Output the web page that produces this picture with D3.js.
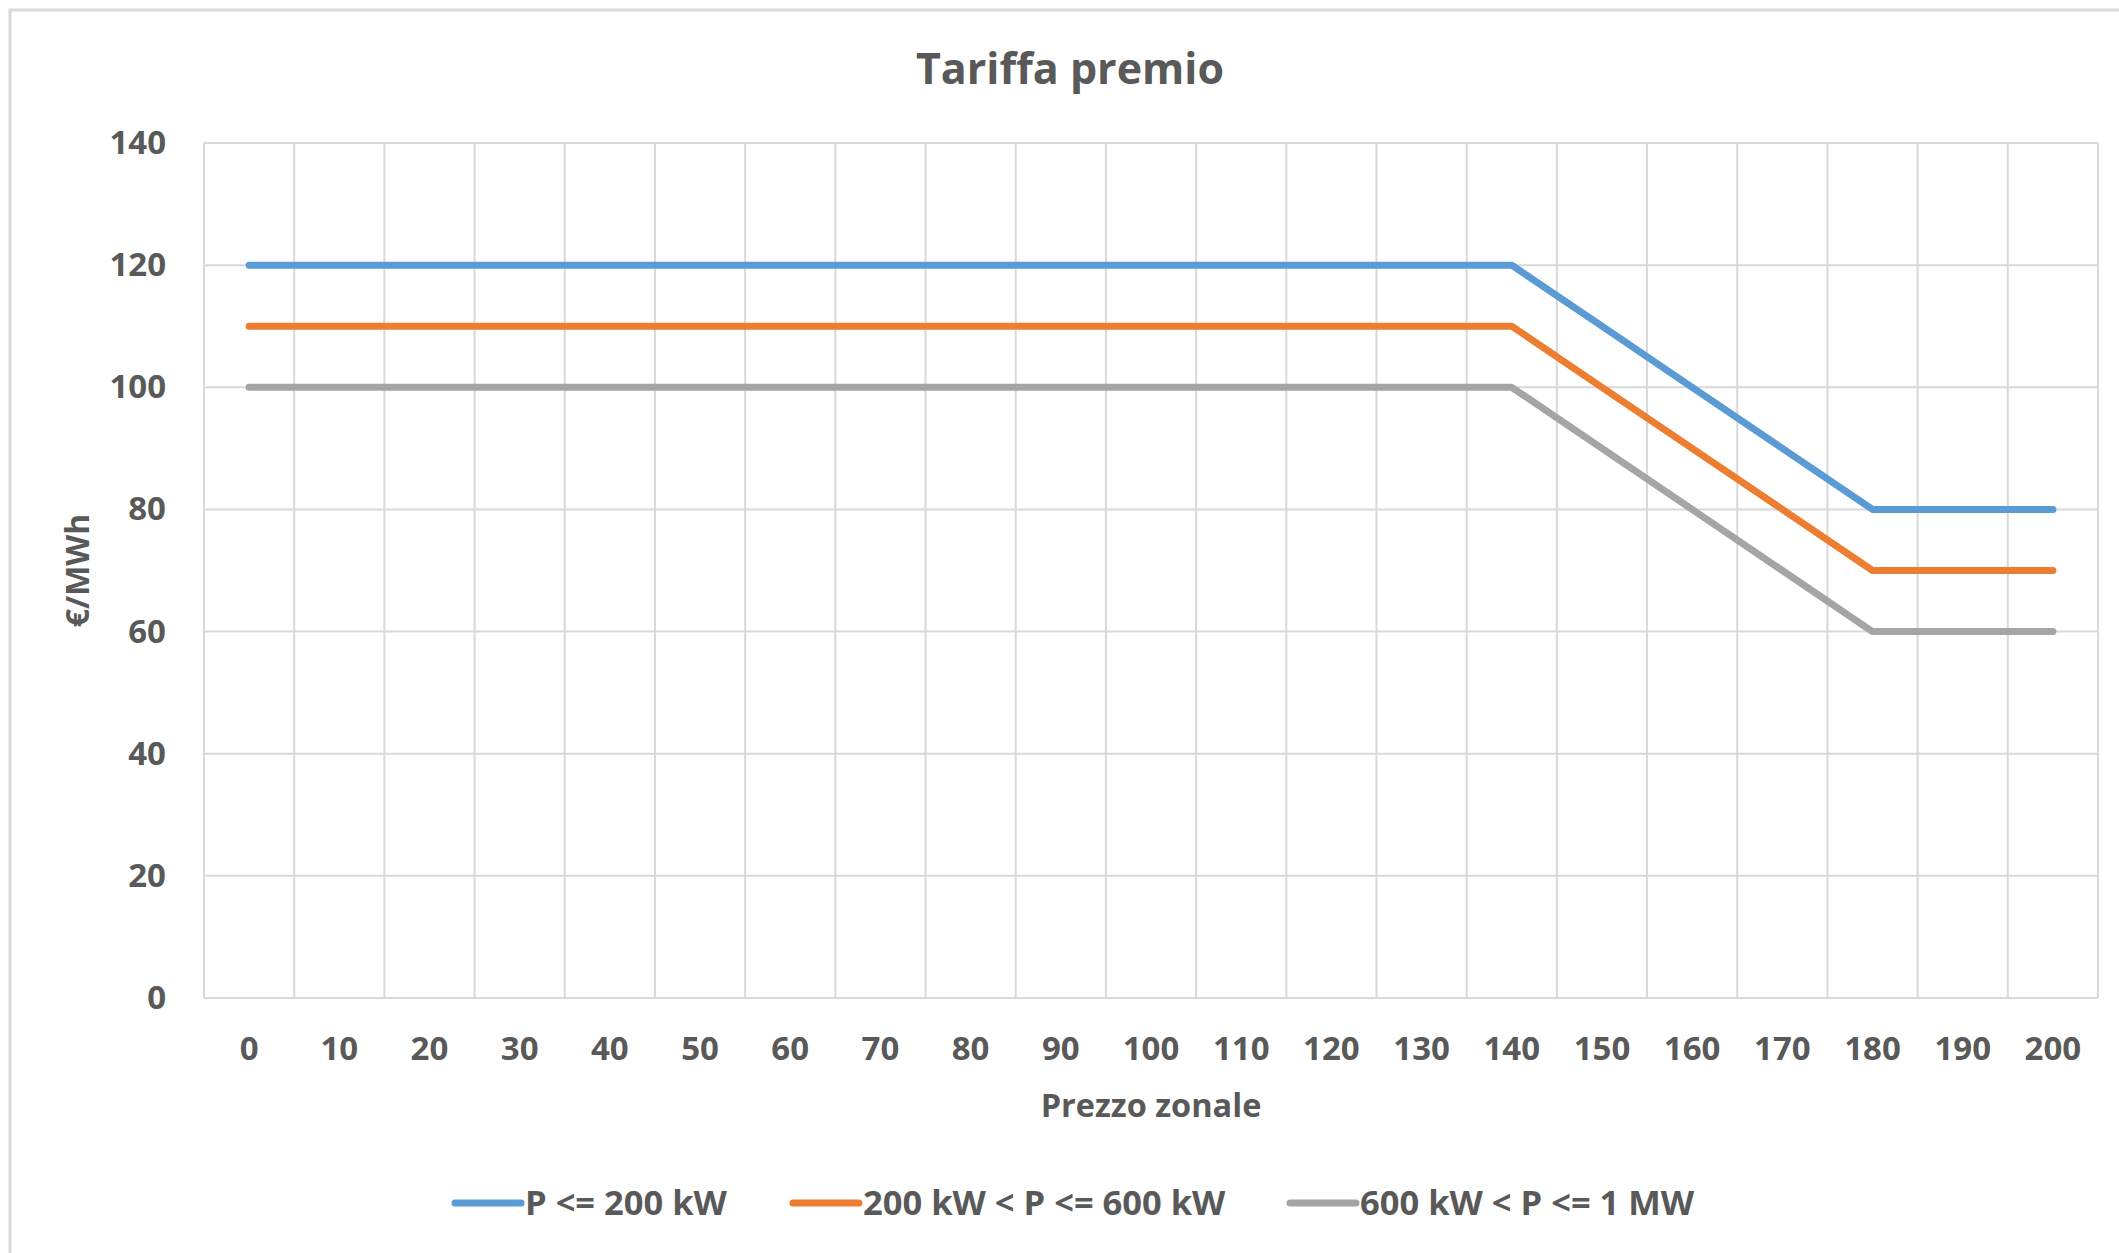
<!DOCTYPE html>
<html>
<head>
<meta charset="utf-8">
<script src="https://cdn.jsdelivr.net/npm/d3@7"></script>
<style>
  body { margin: 0; background: #fff; }
  svg text { font-family: 'Open Sans', sans-serif; fill: #595959; font-weight: bold; }
</style>
</head>
<body>
<svg id="chart"></svg>
<script>
// categories on the x axis (Prezzo zonale)
const categories = [0, 10, 20, 30, 40, 50, 60, 70, 80, 90, 100, 110, 120, 130, 140, 150, 160, 170, 180, 190, 200];

// tariffa premio per fascia di potenza
const seriesSmall = [120, 120, 120, 120, 120, 120, 120, 120, 120, 120, 120, 120, 120, 120, 120, 110, 100, 90, 80, 80, 80];
const seriesMid = [110, 110, 110, 110, 110, 110, 110, 110, 110, 110, 110, 110, 110, 110, 110, 100, 90, 80, 70, 70, 70];
const seriesBig = [100, 100, 100, 100, 100, 100, 100, 100, 100, 100, 100, 100, 100, 100, 100, 90, 80, 70, 60, 60, 60];

const seriesNames = ['P <= 200 kW', '200 kW < P <= 600 kW', '600 kW < P <= 1 MW'];
const seriesColors = ['#5B9BD5', '#ED7D31', '#A5A5A5'];
const yTicks = [0, 20, 40, 60, 80, 100, 120, 140];

const width = 2119;
const height = 1253;
const margin = { top: 143, bottom: 255, right: 21, left: 204 };
const plotW = width - margin.left - margin.right;
const plotH = height - margin.top - margin.bottom;

const svg = d3.select('#chart')
  .attr('width', width)
  .attr('height', height);

// outer chart frame (cut off at right and bottom like the source)
svg.append('rect')
  .attr('x', 10).attr('y', 10)
  .attr('width', width + 20).attr('height', height + 20)
  .attr('fill', 'none')
  .attr('stroke', '#D9D9D9')
  .attr('stroke-width', 3);

const xScale = d3.scaleBand()
  .domain(categories.map(String))
  .range([0, plotW]);

const yScale = d3.scaleLinear()
  .domain([0, 140])
  .range([plotH, 0]);

const g = svg.append('g')
  .attr('transform', `translate(${margin.left},${margin.top})`);

// horizontal gridlines
g.append('g')
  .selectAll('line')
  .data(yTicks)
  .enter()
  .append('line')
  .attr('x1', 0).attr('x2', plotW)
  .attr('y1', d => yScale(d)).attr('y2', d => yScale(d))
  .attr('stroke', '#D9D9D9')
  .attr('stroke-width', 2);

// vertical gridlines on category boundaries
const bounds = categories.map(c => xScale(String(c))).concat([plotW]);
g.append('g')
  .selectAll('line')
  .data(bounds)
  .enter()
  .append('line')
  .attr('x1', d => d).attr('x2', d => d)
  .attr('y1', 0).attr('y2', plotH)
  .attr('stroke', '#D9D9D9')
  .attr('stroke-width', 2);

// y axis labels
const yAxis = d3.axisLeft(yScale)
  .tickValues(yTicks)
  .tickSize(0)
  .tickPadding(38);
const yAxisDraw = g.append('g').call(yAxis);
yAxisDraw.select('.domain').remove();
yAxisDraw.selectAll('text')
  .style('font-size', '33px')
  .attr('fill', '#595959');

// x axis labels
const xAxis = d3.axisBottom(xScale)
  .tickSize(0)
  .tickPadding(39);
const xAxisDraw = g.append('g')
  .attr('transform', `translate(0,${plotH})`)
  .call(xAxis);
xAxisDraw.select('.domain').remove();
xAxisDraw.selectAll('text')
  .style('font-size', '33px')
  .attr('fill', '#595959');

// lines
const allSeries = [seriesSmall, seriesMid, seriesBig];
const line = d3.line()
  .x((d, i) => xScale(String(categories[i])) + xScale.bandwidth() / 2)
  .y(d => yScale(d));

g.selectAll('.series')
  .data(allSeries)
  .enter()
  .append('path')
  .classed('series', true)
  .attr('d', d => line(d))
  .attr('fill', 'none')
  .attr('stroke', (d, i) => seriesColors[i])
  .attr('stroke-width', 7)
  .attr('stroke-linecap', 'round')
  .attr('stroke-linejoin', 'round');

// titles
svg.append('text')
  .text('Tariffa premio')
  .attr('x', 1070).attr('y', 84)
  .attr('text-anchor', 'middle')
  .style('font-size', '43px');

svg.append('text')
  .text('Prezzo zonale')
  .attr('x', margin.left + plotW / 2).attr('y', 1117)
  .attr('text-anchor', 'middle')
  .style('font-size', '32.5px');

svg.append('text')
  .text('€/MWh')
  .attr('transform', `translate(89,${margin.top + plotH / 2}) rotate(-90)`)
  .attr('text-anchor', 'middle')
  .style('font-size', '32px');

// legend
const legendX = [455, 793, 1290];
const legend = svg.append('g')
  .selectAll('g')
  .data(seriesNames)
  .enter()
  .append('g')
  .attr('transform', (d, i) => `translate(${legendX[i]},1203)`);

legend.append('line')
  .attr('x1', 0).attr('x2', 66)
  .attr('y1', 0).attr('y2', 0)
  .attr('stroke', (d, i) => seriesColors[i])
  .attr('stroke-width', 7)
  .attr('stroke-linecap', 'round');

legend.append('text')
  .text(d => d)
  .attr('x', 70)
  .attr('dy', '0.35em')
  .style('font-size', '34.5px');
</script>
</body>
</html>
